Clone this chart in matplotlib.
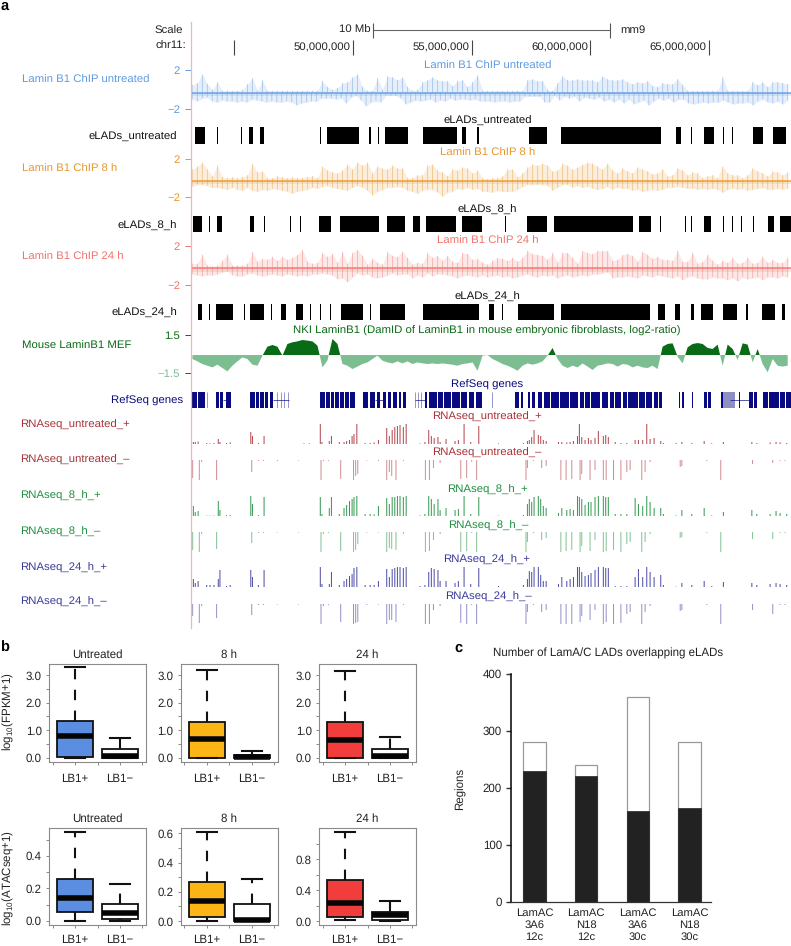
import numpy as np
import matplotlib
matplotlib.use("Agg")
import matplotlib.pyplot as plt

plt.rcParams['font.family'] = ['Liberation Sans', 'DejaVu Sans']
plt.rcParams['mathtext.default'] = 'regular'
plt.rcParams['text.hinting'] = 'none'

W, H = 791, 946
PT = 0.72

# ---------- panel a data (genome coordinates in Mb, chr11) ----------
GENOME_START, GENOME_END = 43.17, 68.46
BIN_FIRST, BIN_LAST = 43.23, 68.32
RULER_MB = [45, 50, 55, 60, 65]
RULER_LABELS = ['', '50,000,000', '55,000,000', '60,000,000', '65,000,000']
SCALE_BAR_MB = [50.84, 60.84]

CHIP_UNT_UP = [.5,.7,1.6,.6,.0,.8,-.1,-.1,-.1,-.1,.0,.6,1.2,-.1,1.0,-.1,-.1,-.1,-.1,-.1,
 -.1,-.1,-.1,-.1,-.1,-.1,.9,.3,.0,.2,.7,.8,1.3,1.6,.3,-.1,-.1,1.2,.0,1.4,1.3,1.0,
 1.3,.3,-.1,.0,.8,1.0,1.3,1.0,.9,.9,.4,.9,1.0,.3,.8,1.5,-.1,-.1,-.1,-.1,-.1,-.1,-.1,-.1,-.1,
 1.0,1.1,.9,.9,.0,-.1,.7,1.4,1.0,1.0,1.1,1.0,1.0,1.0,.8,1.4,1.1,1.0,1.0,1.1,.8,.6,.8,.7,.9,.4,.3,.7,.6,.6,1.1,.5,
 -.1,-.1,-.1,-.1,-.1,-.1,-.1,1.3,-.1,-.1,-.1,-.1,-.1,.8,.5,.8,.3,.8,.8,.7,.6]
CHIP_UNT_DN = [-1.0,-1.2,-.9,-.8,-1.2,-1.3,-1.1,-1.2,-1.2,-1.3,-1.2,-1.3,-1.0,-1.1,-1.2,-1.3,-1.2,-1.3,-1.3,-1.2,
 -1.3,-1.6,-1.4,-1.3,-1.2,-1.2,-.9,-.9,-.9,-1.0,-.9,-1.4,-.8,-.6,-1.1,-1.7,-1.3,-1.2,-1.3,-.6,-.6,-.6,
 -.9,-1.5,-1.3,-1.1,-1.2,-1.1,-1.0,-1.3,-1.1,-1.2,-.9,-1.1,-1.0,-1.0,-1.1,-1.0,-1.2,-1.2,-1.2,-1.3,-1.2,-1.2,-1.3,-1.2,-1.2,
 -.7,-.7,-.7,-.7,-1.3,-1.3,-.6,-1.1,-.7,-.9,-.7,-1.2,-.8,-.9,-1.0,-.8,-1.2,-1.0,-1.3,-1.0,-1.4,-1.0,-1.5,-1.3,-1.1,-1.6,-1.2,-.9,-1.1,-.9,-1.3,-1.0,-1.0,
 -1.4,-1.5,-1.4,-1.3,-1.4,-1.3,-1.3,-1.1,-1.3,-1.5,-1.4,-1.4,-1.3,-1.6,-1.2,-1.0,-1.3,-1.4,-1.2,-1.5,-1.1]

CHIP_8H_UP = [.9,1.2,1.6,.9,.2,1.3,.1,.0,.1,.0,.1,.3,1.5,.6,.7,.0,.0,.2,.1,.0,
 .1,.0,.0,.1,.2,.0,1.2,.8,.6,.5,.8,1.4,.9,1.6,1.3,1.6,.5,1.2,1.0,.9,1.3,1.0,
 1.0,.0,.0,.3,.3,1.3,1.4,.8,.6,.2,.9,.8,1.1,1.0,.5,.8,.0,-.1,.0,.0,.2,.9,.9,.1,.5,1.1,1.4,1.3,1.5,1.3,.7,.8,1.5,1.3,.9,1.1,1.4,1.6,1.5,1.2,.9,1.5,.8,.5,1.0,.7,.5,1.1,.9,.7,.4,.5,.9,.2,.3,1.0,.8,.3,.6,.5,.0,.2,.3,.0,1.2,.5,.3,.3,.0,.3,1.0,.7,.5,.2,.7,.6,.3,.6]
CHIP_8H_DN = [-.9,-.7,-.7,-.8,-1.0,-1.0,-1.1,-1.2,-1.0,-1.2,-1.3,-1.0,-1.3,-1.4,-1.2,-1.3,-1.1,-1.2,-1.3,-1.4,
 -1.6,-1.4,-1.3,-1.2,-1.0,-1.1,-.9,-.8,-1.0,-1.1,-1.2,-1.3,-1.0,-.8,-1.0,-1.3,-1.8,-1.4,-1.2,-1.0,-1.0,-.9,
 -1.0,-1.3,-1.4,-1.6,-1.3,-1.2,-1.2,-1.5,-1.9,-1.5,-1.4,-1.1,-1.2,-1.0,-1.2,-1.1,-1.4,-1.4,-1.5,-1.3,-1.4,-1.4,-1.4,-1.2,-.9,-.7,-.7,-.7,-.7,-.8,-1.3,-1.0,-.7,-.7,-1.0,-.8,-1.0,-.9,-1.1,-1.2,-1.1,-.9,-1.2,-1.0,-1.1,-1.1,-1.3,-1.2,-1.4,-1.3,-1.2,-1.3,-1.2,-1.0,-1.0,-.9,-1.0,-1.1,-1.1,-1.2,-1.1,-1.2,-1.1,-1.2,-1.5,-1.2,-1.1,-1.2,-1.1,-1.3,-1.2,-1.1,-1.0,-1.2,-1.2,-1.1,-1.2,-1.1]

CHIP_24H_UP = [.2,.2,1.1,.0,-.1,.0,.5,1.1,.0,.0,.0,.2,1.4,.4,.7,.6,.9,.5,.9,.6,.8,1.1,1.6,.4,.2,.3,1.3,.9,1.2,.3,1.4,.2,1.3,1.6,1.0,.1,.7,.3,.1,1.4,1.0,.9,1.4,.8,.1,.3,.2,1.3,.8,1.0,.5,1.0,.4,.3,1.3,1.2,.6,.7,.3,.1,
 .5,.8,.7,.5,.8,.4,.8,1.5,1.2,1.1,1.0,.6,1.3,.3,1.3,1.3,.8,.2,1.5,1.3,1.2,1.5,1.5,1.5,.5,.6,1.1,1.2,1.0,.4,1.4,1.1,.7,.9,.6,.6,.5,1.5,.4,.4,1.3,.2,.4,1.1,.5,.1,.5,.3,.8,.2,.3,.8,.2,.3,.9,.3,.6,.3,.3,.8]
CHIP_24H_DN = [-.9,-1.0,-1.1,-1.0,-1.0,-.9,-.7,-.6,-1.0,-1.1,-1.1,-.9,-.8,-1.0,-1.1,-1.0,-.9,-1.0,-1.1,-.9,-1.0,-1.1,-1.0,-1.1,-.9,-.9,-.8,-.9,-1.0,-1.4,-1.3,-1.7,-1.2,-.8,-1.0,-.9,-1.2,-1.3,-1.2,-1.0,-.8,-1.0,-.9,-.9,-1.3,-1.0,-1.2,-.8,-1.1,-.9,-.9,-1.0,-1.1,-1.3,-1.1,-1.0,-1.1,-1.2,-1.0,-1.2,
 -1.1,-1.0,-1.2,-1.1,-1.3,-1.2,-1.0,-.9,-1.1,-1.2,-1.0,-1.1,-1.0,-1.3,-1.1,-1.0,-1.2,-1.1,-1.0,-1.1,-.9,-.9,-.8,-.7,-1.3,-1.2,-1.2,-1.1,-1.2,-1.3,-1.0,-1.1,-1.2,-1.0,-1.1,-1.2,-1.3,-1.1,-1.5,-1.2,-1.1,-1.3,-1.4,-1.4,-1.2,-1.3,-1.3,-1.5,-1.3,-1.6,-1.2,-1.4,-1.3,-1.2,-1.5,-1.2,-1.2,-1.3,-1.1,-1.2]

ELAD_UNT_START = [43.33,44.26,45.27,45.62,46.09,48.62,48.90,50.66,51.06,51.35,52.94,54.61,55.23,57.43,58.45,58.76,63.61,64.24,64.80,65.59,65.97,66.85,67.72]
ELAD_UNT_END = [43.75,44.30,45.31,45.77,46.26,48.66,50.24,50.74,51.10,52.32,54.37,54.78,55.30,58.17,58.49,62.96,63.83,64.28,65.23,65.63,66.01,67.26,68.24]
ELAD_8H_START = [43.25,43.94,44.27,45.66,46.24,47.34,47.78,48.57,49.45,51.42,52.53,53.09,54.58,56.40,57.32,58.45,62.06,62.95,63.72,63.98,64.24,64.80,65.59,65.97,66.34,66.84,67.51,67.99]
ELAD_8H_END = [43.65,43.98,44.46,45.81,46.28,47.38,47.82,49.07,51.10,52.21,52.84,54.36,55.45,56.44,58.17,61.78,62.58,62.99,63.76,64.02,64.28,65.09,65.63,66.01,66.38,66.88,67.74,68.47]
ELAD_24H_START = [43.48,43.94,44.24,45.40,45.66,46.54,46.95,47.61,48.18,48.62,49.01,49.49,50.71,51.13,52.94,55.73,56.27,56.97,58.77,62.85,63.55,64.25,64.66,65.61,66.58,67.23,68.07]
ELAD_24H_END = [43.65,43.98,44.94,45.44,46.26,46.58,47.18,47.88,48.22,48.66,49.05,50.43,50.75,52.21,55.31,55.94,56.31,58.45,62.53,63.15,63.77,64.39,65.19,66.19,66.64,67.80,68.21]

MEF_VALUES = [-.39,-.57,-.78,-.91,-1.04,-.83,-1.09,-1.35,-.91,-.57,-.26,-.39,-.83,-.91,-.13,.57,.70,.57,-.13,.78,.91,.98,1.09,1.04,.98,.65,-1.04,-.5,1.17,.78,
 -.78,-.91,-1.17,-.98,-.78,-.65,-.39,-.13,-.52,-.65,-.73,-.57,-.73,-.57,-.78,-.65,-.73,-.78,-.73,-.78,-.73,-.78,-.83,-.91,-.78,-.73,-.65,-1.30,-.13,-.08,
 -.39,-.57,-.78,-.91,-1.09,-1.30,-.91,-.73,-.83,-.73,-.57,-.13,.47,-.39,-.91,-1.09,-.91,-1.04,-.73,-.98,-1.24,-.91,-.83,-.73,-.78,-.98,-.78,-.83,-1.04,-.91,-1.04,-1.09,-.91,-1.17,.57,.78,.83,-.21,-.73,.52,.78,.85,.78,.47,.39,.73,-.91,.73,.39,-.47,.83,.73,-.65,.39,-.78,-1.42,-.39,-.91,-.98,-.91]

REFSEQ_START = [43.23,43.45,43.65,44.23,44.40,44.65,45.66,45.90,46.08,46.28,46.48,48.61,48.86,49.08,49.26,49.46,49.65,49.86,50.44,50.72,51.00,51.28,51.46,51.68,51.92,52.10,53.03,53.22,53.60,53.85,54.18,54.56,54.88,55.20,56.83,57.06,57.39,57.55,57.81,58.04,58.34,58.72,59.14,59.55,59.78,60.05,60.51,60.82,61.04,61.36,61.60,62.06,62.36,62.68,62.90,63.72,63.86,64.28,64.80,64.96,65.50,66.25,66.70,66.74,66.92,67.30,67.55,68.00,68.26]
REFSEQ_END = [43.42,43.62,43.76,44.36,44.53,44.84,45.85,46.05,46.25,46.42,46.64,48.80,49.02,49.20,49.40,49.60,49.82,50.08,50.62,50.92,51.14,51.40,51.62,51.85,52.02,52.24,53.12,53.55,53.80,54.12,54.50,54.80,55.10,55.42,56.98,57.18,57.46,57.67,57.98,58.30,58.68,59.10,59.50,59.72,60.00,60.41,60.75,60.98,61.30,61.55,62.00,62.30,62.62,62.85,63.01,63.80,63.93,64.33,64.90,65.08,65.60,66.30,66.73,66.86,67.02,67.50,67.95,68.20,68.47]
REFSEQ_FAINT = [43.85,46.81,46.95,47.10,47.25,52.60,52.72,52.85,55.85]
REFSEQ_FAINT_BOX = [65.60,66.10]
INTRON_START = [44.53,46.64,50.92,52.60,65.90]
INTRON_END = [44.65,47.30,51.28,53.03,66.72]

PLUS_POS = [43.27,43.35,43.47,43.83,43.97,44.14,44.32,44.39,44.67,44.82,45.69,45.76,46.01,46.25,47.93,48.16,48.62,48.69,49.00,49.09,49.42,49.62,49.73,49.85,49.96,50.04,50.16,50.51,50.72,50.89,51.07,51.42,51.53,51.65,51.76,51.87,51.98,52.12,52.24,52.82,53.03,53.19,53.30,53.42,53.58,53.67,53.92,54.30,54.44,54.68,54.96,55.30,
 56.13,57.18,57.35,57.43,57.53,57.63,57.81,57.91,58.02,58.14,58.66,58.80,59.01,59.15,59.29,59.46,59.54,59.64,59.78,59.92,60.03,60.20,60.34,60.55,60.65,60.76,61.05,61.29,61.54,61.89,62.03,62.21,62.38,62.52,62.69,62.97,63.08,63.62,63.86,64.28,64.80,65.12,65.61,66.81,67.02,67.58,67.83,68.00,68.28]
PLUS_UNT = [.1,.1,.12,.05,.03,.05,.25,.1,.05,.08,.6,.4,.05,.4,.03,.03,1,.1,.15,.4,.1,.1,.15,.2,.4,.5,1,.05,.05,.08,.2,.8,.4,.7,.85,.9,.95,.85,1,.03,.1,.7,.4,.3,.35,.1,.25,.15,.2,1,.1,.9,
 .03,.05,.15,.2,.35,.7,.45,.4,.2,.15,.1,.1,.08,.1,.15,.4,1,.35,.2,.3,.2,.3,.65,.4,.45,.35,.1,.05,.05,.2,.2,.2,1,.25,.3,.15,.05,.05,.1,.05,.15,.03,.1,.1,.05,.08,.1,.08,.05]
PLUS_8H = [.5,.2,.25,.02,.02,.02,.75,.3,.05,.05,1,.6,.05,.95,0,0,.95,.1,.4,.95,.1,.4,.55,.75,.85,.95,1,.1,.1,.08,.5,.9,.6,.95,.95,1,1,.95,1,.03,.1,1,.85,.6,.85,.3,.4,.3,.35,1,.1,.95,
 .02,.05,.6,.85,.7,.95,1,.85,.5,.4,.15,.4,.3,.35,.3,1,.95,.85,.55,.7,.7,.95,1,1,.95,.95,.1,.1,.1,.9,.6,.5,1,.7,.4,.4,.1,.03,.3,.1,.4,.03,.2,.3,.1,.1,.25,.15,.1]
PLUS_24H = [.4,.2,.3,.1,.1,.1,.4,.85,.05,.1,.85,.5,.1,.85,0,0,1,.15,.15,.75,.1,.3,.4,.55,.65,.95,1,.1,.1,.1,.3,.9,.5,.9,.95,1,1,.95,1,.05,.1,.75,.95,.9,.85,.3,.3,.2,.3,1,.15,.95,
 .05,.1,.4,.8,.75,1,1,.6,.3,.3,.15,.5,.3,.4,.5,1,1,.75,.55,.6,.7,.85,1,1,.95,.95,.05,.05,.05,.5,.9,.5,1,.75,.5,.6,.1,.02,.2,.1,.3,.05,.25,.2,.1,.15,.2,.15,.1]

MINUS_POS = [43.24,43.52,43.62,44.25,45.73,46.01,46.22,46.81,47.70,48.65,48.75,48.96,49.48,50.02,50.11,50.20,50.58,51.07,51.42,51.53,51.63,51.81,52.12,53.05,53.22,53.39,53.67,54.54,54.79,55.00,55.21,
 57.29,57.35,57.60,57.95,58.14,58.76,58.98,59.22,59.57,59.64,59.99,60.20,60.55,60.67,60.98,61.29,61.54,61.68,62.17,62.31,62.52,63.79,63.86,64.91,65.50,66.84,67.69,68.00,68.21]
MINUS_UNT = [.9,1,.1,1,.6,.05,.05,.05,.03,1,.05,.05,.95,1,.8,.7,.03,.05,1,.6,.8,1,.05,1,1,.4,.15,.95,.9,.08,1,
 1,.4,.05,.4,.3,1,1,.95,1,.7,1,.5,1,1,1,1,.6,.5,1,.6,.1,.35,.3,.05,1,.2,.15,.05,.05]
MINUS_8H = [.9,1,.1,.85,.55,.05,.05,.03,.03,1,.1,.05,.95,1,.9,.6,.03,.03,1,.8,.85,.9,.1,1,.95,.4,.1,1,.95,.05,1,
 1,.5,.05,.4,.3,1,.95,.9,1,.7,.95,.4,1,.95,.9,1,.6,.5,1,.5,.1,.3,.25,.05,1,.35,.35,.05,.05]
MINUS_24H = [.6,.95,.1,.7,.55,.05,.05,.03,.03,1,.1,.05,.9,1,.95,.9,.05,.03,1,.8,.8,.9,.05,1,1,.3,.1,.95,1,.05,1,
 1,.4,.05,.4,.3,1,1,1,.9,.6,.8,.3,1,.9,1,.95,.5,.4,1,.4,.1,.35,.3,.05,1,.3,.5,.05,.05]

# ---------- panel b data ----------
CATEGORIES = ['LB1+', 'LB1\u2212']
# lo, q1, median, q3, hi  per group
FPKM_UNT = [[0, .03, .78, 1.35, 3.28], [0, 0, .05, .30, .73]]
FPKM_8H = [[0, 0, .67, 1.30, 3.18], [0, 0, .03, .10, .23]]
FPKM_24H = [[0, 0, .65, 1.28, 3.15], [0, 0, .05, .30, .75]]
ATAC_UNT = [[0, .057, .14, .26, .55], [0, .015, .05, .105, .23]]
ATAC_8H = [[0, .03, .14, .27, .61], [0, 0, .01, .12, .285]]
ATAC_24H = [[.01, .05, .24, .53, 1.15], [0, .02, .08, .12, .26]]
BOX_COLORS = ['#5b8de0', '#fdb515', '#f23d3d']
PANEL_TITLES = ['Untreated', '8 h', '24 h']

# ---------- panel c data ----------
C_LABELS = ['LamAC\n3A6\n12c', 'LamAC\nN18\n12c', 'LamAC\n3A6\n30c', 'LamAC\nN18\n30c']
C_OVERLAP = [230, 220, 160, 165]
C_TOTAL = [280, 240, 360, 280]

# ---------- helpers ----------
fig = plt.figure(figsize=(W / 100, H / 100), dpi=100, facecolor='white')


def axpx(x0, ytop, x1, ybot):
    return fig.add_axes([x0 / W, 1 - ybot / H, (x1 - x0) / W, (ybot - ytop) / H])


def txt(x, y, s, ha='left', color='#222222', size=8.2, **kw):
    fig.text(x / W, 1 - y / H, s, ha=ha, va='center', color=color, fontsize=size, **kw)


def track(ytop, ybot, ylim, yticks=None, ticklabels=None, color='k'):
    ax = axpx(191, ytop, 791, ybot)
    ax.set_xlim(GENOME_START, GENOME_END)
    ax.set_ylim(*ylim)
    ax.patch.set_alpha(0)
    for s in ax.spines.values():
        s.set_visible(False)
    ax.set_xticks([])
    if yticks is None:
        ax.set_yticks([])
    else:
        ax.set_yticks(yticks)
        ax.set_yticklabels(ticklabels, color=color, fontsize=8.2)
        ax.tick_params(axis='y', length=6 * PT, width=0.7, color=color, pad=3.5)
    return ax


# ---------- panel a ----------
BLUE, ORANGE, SALMON = '#5f9be0', '#e8972c', '#f2736b'
DGREEN, LGREEN = '#0a6b16', '#7dbd92'
NAVY = '#0a0a80'
RED_R, GREEN_R, BLUE_R = '#a9323a', '#1f8f3e', '#3a3a9c'

# vertical guide
fig.add_artist(plt.Line2D([190.5 / W, 190.5 / W], [1 - 22 / H, 1 - 628 / H], color='#f5b5b0', lw=0.9))

# ruler
ax = track(20, 58, (58, 20))
ax.vlines(RULER_MB, 40, 55, color='#444444', lw=0.8)
for mb, lab in zip(RULER_MB, RULER_LABELS):
    if lab:
        ax.text(mb - 0.09, 47.5, lab, ha='right', va='center', fontsize=8.2, color='#222222')
ax.hlines(30.5, SCALE_BAR_MB[0], SCALE_BAR_MB[1], color='#666666', lw=0.8)
ax.vlines(SCALE_BAR_MB, 23, 38, color='#555555', lw=0.8)
ax.text(SCALE_BAR_MB[0] - 0.08, 30, '10 Mb', ha='right', va='center', fontsize=8.2, color='#222222')
ax.text(SCALE_BAR_MB[1] + 0.42, 30, 'mm9', ha='left', va='center', fontsize=8.2, color='#222222')
txt(183, 31.5, 'Scale', ha='right')
txt(186, 46, 'chr11:', ha='right')


def chip(ytop, ybot, up, dn, color):
    a = track(ytop, ybot, (-2, 2), [2, -2], ['2', '\u22122'], color)
    for vals in (up, dn):
        x = np.linspace(BIN_FIRST, BIN_LAST, len(vals))
        a.fill_between(x, -0.3, vals, color=color, alpha=0.16, lw=0, clip_on=False)
        a.vlines(x, -0.3, vals, color=color, lw=1.0 * PT, alpha=0.4, clip_on=False, snap=False)
    a.axhline(-0.3, color=color, lw=2.0 * PT, alpha=0.7)
    a.axhspan(-0.62, -0.3, color=color, alpha=0.18, lw=0)


def elad(ytop, ybot, starts, ends):
    a = track(ytop, ybot, (0, 1))
    s = np.array(starts)
    a.broken_barh(list(zip(s, np.array(ends) - s)), (0, 1), facecolor='black', edgecolor='none')


chip(70.5, 109, CHIP_UNT_UP, CHIP_UNT_DN, BLUE)
elad(127, 144, ELAD_UNT_START, ELAD_UNT_END)
chip(158.7, 197.3, CHIP_8H_UP, CHIP_8H_DN, ORANGE)
elad(216, 232, ELAD_8H_START, ELAD_8H_END)
chip(246, 285, CHIP_24H_UP, CHIP_24H_DN, SALMON)
elad(304, 320, ELAD_24H_START, ELAD_24H_END)

# MEF
a = track(334.7, 373.3, (-1.5, 1.5), [1.5, -1.5], ['1.5', '\u22121.5'], DGREEN)
a.get_yticklabels()[1].set_color(LGREEN)
a.get_yticklines()[2].set_color(LGREEN)
mef = np.array(MEF_VALUES)
xm = np.linspace(BIN_FIRST, BIN_LAST, len(mef))
a.fill_between(xm, -0.08, mef, where=mef >= -0.08, interpolate=True, color=DGREEN, lw=0, clip_on=False)
a.fill_between(xm, -0.08, mef, where=mef <= -0.08, interpolate=True, color=LGREEN, lw=0, clip_on=False)

# RefSeq
a = track(392, 408, (0, 1))
s = np.array(REFSEQ_START)
a.broken_barh(list(zip(s, np.array(REFSEQ_END) - s)), (0, 1), facecolor=NAVY, edgecolor='none')
a.hlines([0.5] * len(INTRON_START), INTRON_START, INTRON_END, color=NAVY, lw=0.6, alpha=0.8)
a.vlines(REFSEQ_FAINT, 0, 1, color=NAVY, lw=0.6, alpha=0.5)
a.broken_barh([(REFSEQ_FAINT_BOX[0], REFSEQ_FAINT_BOX[1] - REFSEQ_FAINT_BOX[0])], (0, 1),
              facecolor='#8f8fc4', edgecolor='none')


def rna(ytop, ybot, pos, vals, color, minus=False):
    a = track(ytop, ybot, (-1, 0) if minus else (0, 1))
    v = -np.array(vals) if minus else np.array(vals)
    a.vlines(pos, 0, v, color=color, lw=1.0 * PT, alpha=0.55 if minus else 0.9, clip_on=False, snap=False)


rna(424, 444, PLUS_POS, PLUS_UNT, RED_R)
rna(460, 480, MINUS_POS, MINUS_UNT, RED_R, True)
rna(496, 516, PLUS_POS, PLUS_8H, GREEN_R)
rna(532, 552, MINUS_POS, MINUS_8H, GREEN_R, True)
rna(567, 587, PLUS_POS, PLUS_24H, BLUE_R)
rna(604, 624, MINUS_POS, MINUS_24H, BLUE_R, True)

# labels panel a
LEFT = [(22.5, 80.5, 'Lamin B1 ChIP untreated', BLUE), (22.5, 169, 'Lamin B1 ChIP 8 h', ORANGE),
        (22.5, 257, 'Lamin B1 ChIP 24 h', SALMON), (22, 345.7, 'Mouse LaminB1 MEF', DGREEN),
        (20.5, 424.5, 'RNAseq_untreated_+', RED_R), (20.5, 460, 'RNAseq_untreated_\u2013', RED_R),
        (20.5, 496, 'RNAseq_8_h_+', GREEN_R), (20.5, 532, 'RNAseq_8_h_\u2013', GREEN_R),
        (20.5, 568, 'RNAseq_24_h_+', BLUE_R), (20.5, 601.5, 'RNAseq_24_h_\u2013', BLUE_R)]
for x, y, s, c in LEFT:
    txt(x, y, s, color=c)
for y, s, c in [(137, 'eLADs_untreated', '#111111'), (225.5, 'eLADs_8_h', '#111111'),
                (313, 'eLADs_24_h', '#111111')]:
    txt(177, y, s, ha='right', color=c)
txt(183.5, 400.5, 'RefSeq genes', ha='right', color=NAVY)
CENTER = [(487.5, 66.5, 'Lamin B1 ChIP untreated', BLUE), (487.5, 121, 'eLADs_untreated', '#111111'),
          (487.5, 153, 'Lamin B1 ChIP 8 h', ORANGE), (487, 210, 'eLADs_8_h', '#111111'),
          (487.5, 241.5, 'Lamin B1 ChIP 24 h', SALMON), (487, 296.5, 'eLADs_24_h', '#111111'),
          (487, 330.5, 'NKI LaminB1 (DamID of LaminB1 in mouse embryonic fibroblasts, log2-ratio)', DGREEN),
          (487.5, 385, 'RefSeq genes', NAVY), (487, 417, 'RNAseq_untreated_+', RED_R),
          (487, 452.5, 'RNAseq_untreated_\u2013', RED_R), (487, 489.5, 'RNAseq_8_h_+', GREEN_R),
          (488, 526, 'RNAseq_8_h_\u2013', GREEN_R), (487, 560, 'RNAseq_24_h_+', BLUE_R),
          (488, 597, 'RNAseq_24_h_\u2013', BLUE_R)]
for x, y, s, c in CENTER:
    txt(x, y, s, ha='center', color=c)

txt(0.5, 5.5, 'a', weight='bold', color='black', size=10.5)
txt(0.5, 648, 'b', weight='bold', color='black', size=10.5)
txt(454.5, 648, 'c', weight='bold', color='black', size=10.5)


# ---------- panel b ----------
def boxpanel(x0, ytop, x1, ybot, stats, color, title, ylim, ticks, labels, title_y, xpad=6.5):
    a = axpx(x0, ytop, x1, ybot)
    bx = [dict(whislo=s[0], q1=s[1], med=s[2], q3=s[3], whishi=s[4], fliers=[]) for s in stats]
    art = a.bxp(bx, positions=[1, 2], widths=0.8, patch_artist=True, showfliers=False, capwidths=0.44,
                boxprops=dict(linewidth=1.3, edgecolor='#111111'),
                medianprops=dict(linewidth=4.0, color='#050505', solid_capstyle='butt'),
                whiskerprops=dict(linewidth=1.5, color='#111111', linestyle=(0, (5, 5))),
                capprops=dict(linewidth=1.5, color='#111111'))
    art['boxes'][0].set_facecolor(color)
    art['boxes'][1].set_facecolor('white')
    a.set_xlim(0.42, 2.58)
    a.set_ylim(*ylim)
    a.set_xticks([0.5, 1, 1.5, 2, 2.5])
    a.set_xticklabels(['', CATEGORIES[0], '', CATEGORIES[1], ''], fontsize=8.3, color='#222222')
    a.set_yticks(ticks)
    a.set_yticklabels(labels, fontsize=8.3, color='#222222')
    a.tick_params(axis='x', length=3 * PT, width=0.6, color='#777777', pad=xpad)
    a.tick_params(axis='y', length=3 * PT, width=0.6, color='#777777', pad=3)
    for s in a.spines.values():
        s.set_color('#8a8a8a')
        s.set_linewidth(0.8)
    txt((x0 + x1) / 2, title_y, title, ha='center', size=8.3)


FPKM_TICKS = [0, .5, 1, 1.5, 2, 2.5, 3]
FPKM_LABELS = ['0.0', '', '1.0', '', '2.0', '', '3.0']
XS = [(49, 146), (180.7, 277.7), (319, 416)]
for (x0, x1), st, c, t in zip(XS, [FPKM_UNT, FPKM_8H, FPKM_24H], BOX_COLORS, PANEL_TITLES):
    boxpanel(x0, 664.3, x1, 761.7, st, c, t, (-0.145, 3.39), FPKM_TICKS, FPKM_LABELS, 655)

boxpanel(XS[0][0], 828.3, XS[0][1], 925, ATAC_UNT, BOX_COLORS[0], PANEL_TITLES[0], (-0.0246, 0.57),
         [0, .1, .2, .3, .4, .5], ['0.0', '', '0.2', '', '0.4', ''], 819, 4.5)
boxpanel(XS[1][0], 828.3, XS[1][1], 925, ATAC_8H, BOX_COLORS[1], PANEL_TITLES[1], (-0.027, 0.635),
         [0, .1, .2, .3, .4, .5, .6], ['0.0', '', '0.2', '', '0.4', '', '0.6'], 819, 4.5)
boxpanel(XS[2][0], 828.3, XS[2][1], 925, ATAC_24H, BOX_COLORS[2], PANEL_TITLES[2], (-0.05, 1.2),
         [0, .2, .4, .6, .8, 1.0], ['0.0', '', '0.4', '', '0.8', ''], 819, 4.5)

fig.text(8.5 / W, 1 - 711.7 / H, 'log$_{10}$(FPKM+1)', rotation=90, ha='center', va='center', fontsize=8.3, color='#222222')
fig.text(8.5 / W, 1 - 878 / H, 'log$_{10}$(ATACseq+1)', rotation=90, ha='center', va='center', fontsize=8.3, color='#222222')

# ---------- panel c ----------
a = axpx(511.3, 674, 710.7, 901.7)
xc = np.arange(len(C_LABELS))
a.bar(xc, C_TOTAL, width=0.432, facecolor='white', edgecolor='#9a9a9a', linewidth=0.9)
a.bar(xc, C_OVERLAP, width=0.432, facecolor='#222222', edgecolor='#222222', linewidth=0.5)
a.set_xlim(-0.448, 3.41)
a.set_ylim(0, 400)
a.set_yticks([0, 100, 200, 300, 400])
a.set_xticks(xc)
a.set_xticklabels(C_LABELS, fontsize=8.1, color='#222222', linespacing=1.2)
a.tick_params(axis='x', length=0, pad=4.5)
a.tick_params(axis='y', length=5.3 * PT, width=1.0, labelsize=8.3, labelcolor='#222222', color='#333333', pad=3)
for s in ('top', 'right'):
    a.spines[s].set_visible(False)
a.spines['left'].set_linewidth(1.1)
a.spines['bottom'].set_linewidth(0.9)
a.spines['bottom'].set_color('#333333')
fig.text(460 / W, 1 - 789 / H, 'Regions', rotation=90, ha='center', va='center', fontsize=8.3, color='#222222')
txt(608, 653.3, 'Number of LamA/C LADs overlapping eLADs', ha='center', size=8.3)

fig.savefig('out.png', dpi=100)
